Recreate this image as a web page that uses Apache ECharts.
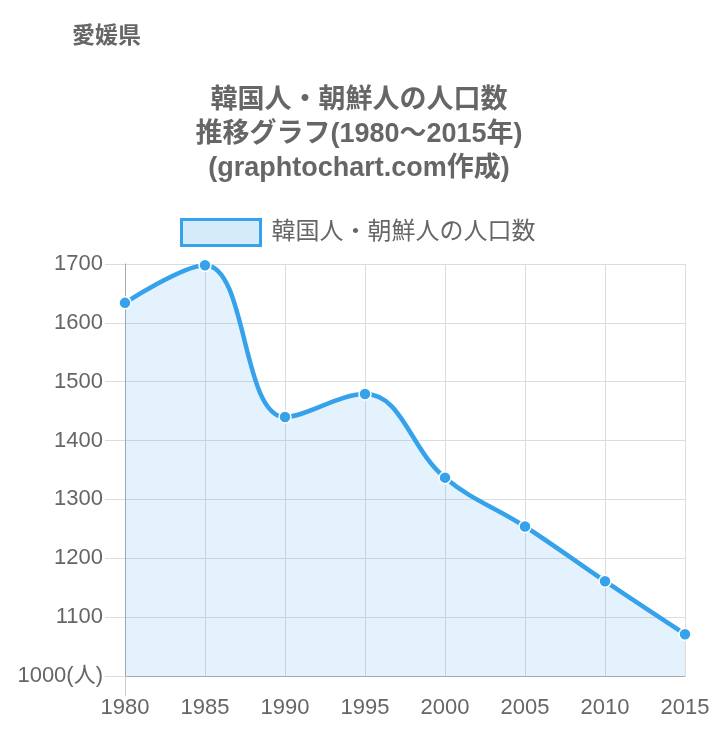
<!DOCTYPE html>
<html>
<head>
<meta charset="utf-8">
<script src="https://cdn.jsdelivr.net/npm/echarts@6/dist/echarts.min.js"></script>
<style>html,body{margin:0;padding:0;background:#fff;}#c{width:718px;height:736px;}</style>
</head>
<body>
<div id="c"></div>
<script>
const categories = ['1980','1985','1990','1995','2000','2005','2010','2015'];
const values = [1634, 1698, 1440, 1479, 1337, 1254, 1161, 1071];
const seriesName = '韓国人・朝鮮人の人口数';
const prefTitle = '愛媛県';
const mainTitle = '韓国人・朝鮮人の人口数\n推移グラフ(1980〜2015年)\n(graphtochart.com作成)';

const FONT = '"Liberation Sans", Arial, "Noto Sans CJK JP", sans-serif';
const chart = echarts.init(document.getElementById('c'));
chart.setOption({
  animation: false,
  textStyle: { fontFamily: FONT },
  title: [
    { text: prefTitle, left: 72, top: 25, padding: 0,
      textStyle: { fontSize: 23, fontWeight: 'bold', color: '#666', fontFamily: FONT } },
    { text: mainTitle, left: 359, top: 84, textAlign: 'center', padding: 0,
      textStyle: { fontSize: 27, fontWeight: 'bold', color: '#666', lineHeight: 34, fontFamily: FONT } }
  ],
  legend: {
    top: 218, left: 180, padding: 0,
    itemWidth: 79, itemHeight: 26, itemGap: 10,
    icon: 'rect',
    textStyle: { fontSize: 24, color: '#666', fontFamily: FONT, padding: [0, 0, 0, 6] },
    itemStyle: { color: '#d6ebf9', borderColor: '#36a2eb', borderWidth: 3 },
    data: [seriesName]
  },
  grid: { left: 125, right: 33, top: 264, bottom: 60, containLabel: false },
  xAxis: {
    type: 'category', data: categories, boundaryGap: false,
    axisLine: { lineStyle: { color: '#aaa', width: 1 } },
    axisTick: { show: true, length: 20, interval: (i) => i === 0, lineStyle: { color: '#ccc' } },
    axisLabel: { fontSize: 22, color: '#666', margin: 21, fontFamily: FONT },
    splitLine: { show: true, lineStyle: { color: '#dcdcdc' } }
  },
  yAxis: {
    type: 'value', min: 1000, max: 1700, interval: 100,
    axisLine: { show: true, lineStyle: { color: '#aaa', width: 1 } },
    axisTick: { show: true, length: 20, lineStyle: { color: '#dcdcdc' } },
    axisLabel: { fontSize: 22, color: '#666', margin: 22, fontFamily: FONT,
      formatter: v => v === 1000 ? '1000(人)' : String(v) },
    splitLine: { show: true, lineStyle: { color: '#dcdcdc' } }
  },
  series: [{
    name: seriesName, type: 'line', data: values, smooth: 0.4,
    symbol: 'circle', symbolSize: 12,
    lineStyle: { color: '#36a2eb', width: 4.5 },
    itemStyle: { color: '#36a2eb', borderColor: '#fff', borderWidth: 1.5 },
    areaStyle: { color: 'rgba(54,162,235,0.2)' }
  }]
});
</script>
</body>
</html>
